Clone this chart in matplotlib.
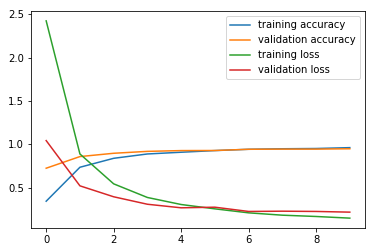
import matplotlib
matplotlib.use("Agg")
import matplotlib.pyplot as plt

# values per epoch
epochs = list(range(10))
train_acc = [0.346, 0.737, 0.84, 0.89, 0.91, 0.929, 0.944, 0.95, 0.953, 0.963]
val_acc = [0.726, 0.86, 0.898, 0.92, 0.929, 0.93, 0.944, 0.946, 0.946, 0.95]
train_loss = [2.423, 0.89, 0.546, 0.389, 0.308, 0.258, 0.212, 0.185, 0.17, 0.151]
val_loss = [1.044, 0.523, 0.397, 0.311, 0.27, 0.277, 0.228, 0.231, 0.228, 0.22]

fig = plt.figure(figsize=(375 / 72, 252 / 72), dpi=72)
ax = fig.add_axes([31 / 375, 1 - 228 / 252, 334 / 375, 217 / 252])

ax.plot(epochs, train_acc, label="training accuracy")
ax.plot(epochs, val_acc, label="validation accuracy")
ax.plot(epochs, train_loss, label="training loss")
ax.plot(epochs, val_loss, label="validation loss")

ax.set_xticks([0, 2, 4, 6, 8])
ax.set_yticks([0.5, 1.0, 1.5, 2.0, 2.5])
ax.legend(loc="upper right")

fig.savefig("out.png", dpi=72)
